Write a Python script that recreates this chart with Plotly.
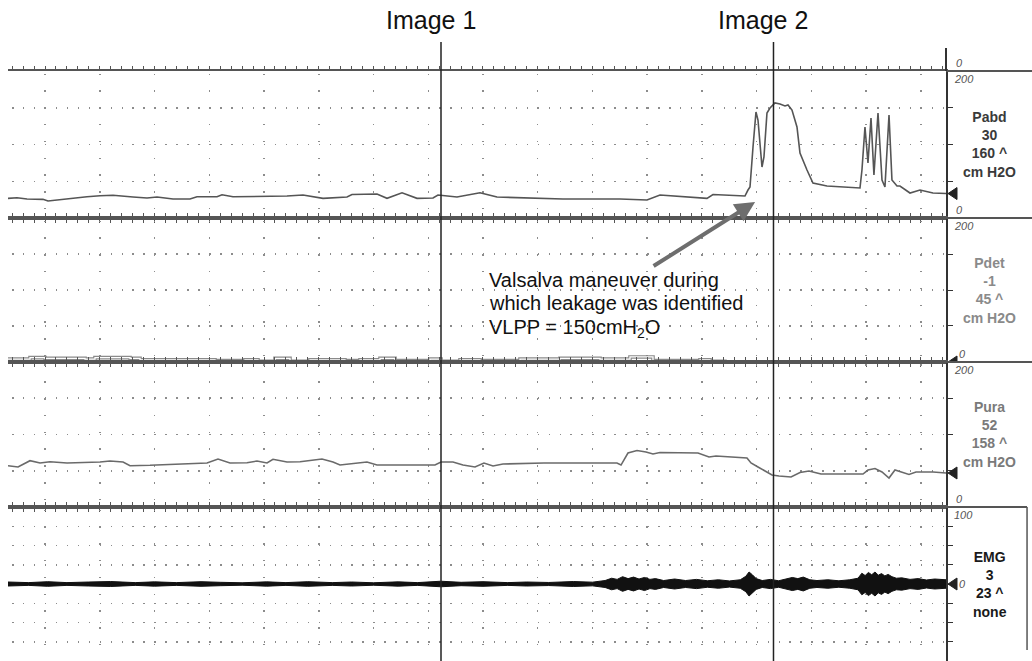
import plotly.graph_objects as go

# ---------------- data (time in s, pressures in cm H2O) ----------------
pabd_t = [-6.76, -5.11, -3.29, -0.37, 0.55, 4.02, 7.67, 10.05, 12.42, 16.07,
          18.63, 20.46, 23.38, 26.48, 27.76, 31.42, 32.33, 34.34, 40.55, 44.20,
          47.12, 50.78, 55.16, 56.07, 60.64, 62.47, 65.21, 67.95, 70.87, 71.78,
          75.25, 79.45, 82.56, 88.58, 94.61, 105.02, 109.95, 112.33, 119.09, 120.91,
          122.01, 127.85, 128.40, 128.77, 129.32, 129.86, 130.23, 130.96, 131.32, 131.87,
          132.42, 133.33, 134.25, 135.16, 135.71, 136.44, 137.35, 137.90, 139.18, 140.27,
          142.83, 145.21, 147.58, 148.86, 149.22, 149.77, 150.32, 150.87, 151.41, 152.15,
          152.88, 153.42, 154.16, 154.70, 155.62, 156.16, 157.99, 159.82, 162.19, 164.57]
pabd_v = [26.8, 27.6, 25.9, 25.4, 23.1, 26.3, 29.0, 30.3, 30.9, 28.6,
          27.2, 28.6, 25.9, 25.9, 29.0, 29.0, 31.7, 29.0, 29.0, 29.9,
          31.3, 26.8, 28.6, 32.0, 32.7, 26.8, 34.4, 26.8, 27.2, 31.3,
          28.6, 34.4, 28.6, 26.8, 25.9, 25.9, 24.5, 31.3, 27.6, 26.8,
          32.0, 29.9, 38.1, 42.2, 96.6, 144.2, 133.3, 69.4, 83.0, 142.9,
          149.7, 156.5, 155.1, 152.4, 153.7, 146.9, 123.8, 88.4, 65.3, 47.6,
          43.5, 42.2, 40.8, 40.8, 65.3, 123.8, 74.8, 136.1, 58.5, 142.9,
          51.7, 42.2, 140.1, 51.7, 43.5, 43.5, 34.0, 38.1, 34.0, 33.3]

pdet_t = [-6.76, -4.57, -2.74, 0.0, 7.31, 9.13, 15.53, 17.35, 26.48, 31.05,
          36.53, 38.90, 42.01, 44.75, 48.40, 54.79, 57.53, 61.19, 63.93, 70.32,
          72.33, 75.80, 79.45, 86.76, 94.06, 101.37, 106.85, 108.68, 111.05, 114.16,
          119.63, 121.46, 124.20, 164.57]
pdet_v = [4, 4, 6, 5, 4, 6, 5, 3, 3, 2,
          3, 1, 5, 1, 3, 2, 3, 5, 2, 4,
          1, 3, 2, 4, 5, 4, 7, 7, 2, 2,
          3, 1, 0, 0]

pura_t = [-6.76, -4.93, -2.74, -0.91, 0.91, 4.02, 10.05, 11.87, 14.25, 15.53,
          19.18, 25.21, 29.59, 31.60, 33.79, 36.89, 38.72, 40.55, 41.64, 44.20,
          46.58, 50.59, 52.60, 53.88, 57.53, 58.81, 60.64, 64.84, 71.23, 72.33,
          74.52, 76.35, 78.54, 80.18, 81.83, 83.65, 91.14, 104.47, 105.21, 106.48,
          108.13, 109.77, 111.05, 112.33, 119.27, 121.28, 122.56, 128.22, 128.95, 130.23,
          131.51, 132.79, 134.06, 136.26, 137.90, 139.54, 141.74, 149.41, 150.32, 151.60,
          152.88, 154.16, 155.25, 157.81, 159.09, 162.19, 164.57]
pura_v = [57.0, 55.2, 63.9, 60.7, 62.5, 60.7, 62.1, 63.4, 62.1, 57.0,
          57.5, 59.3, 60.7, 66.2, 60.7, 61.1, 63.4, 60.7, 65.8, 62.1,
          62.5, 66.2, 62.1, 57.9, 60.7, 62.1, 57.9, 57.9, 57.9, 62.1,
          62.1, 57.9, 55.2, 60.7, 56.6, 59.3, 60.7, 60.7, 57.9, 74.5,
          77.9, 75.9, 73.1, 75.2, 74.5, 69.0, 70.3, 67.6, 60.7, 55.2,
          49.7, 44.1, 42.8, 41.4, 47.6, 49.7, 45.5, 45.5, 51.0, 53.0,
          48.3, 40.0, 51.0, 44.8, 48.3, 48.3, 46.9]

# EMG amplitude envelope (half-amplitude, arbitrary units)
emg_t = [-6.76, -3.0, 0.5, 4.0, 8.0, 12.0, 16.5, 20.0, 24.0, 28.5,
         32.0, 36.0, 40.5, 44.0, 48.0, 52.5, 56.0, 60.0, 64.5, 68.0,
         72.3, 76.0, 80.0, 84.5, 88.0, 92.0, 96.5, 100.0, 102.3, 103.5,
         104.5, 105.5, 106.5, 107.5, 108.5, 109.5, 110.5, 111.5, 113.0, 115.0,
         117.0, 119.0, 121.0, 123.0, 125.0, 127.0, 128.0, 128.6, 129.2, 129.9,
         131.0, 132.5, 134.0, 135.5, 136.5, 137.5, 138.5, 139.7, 141.0, 143.0,
         145.0, 147.0, 148.5, 149.2, 149.8, 150.4, 151.0, 151.6, 152.2, 152.8,
         153.4, 154.0, 154.7, 155.5, 156.5, 158.0, 159.5, 161.0, 162.5, 164.57]
emg_env = [2.6, 1.8, 3.0, 1.8, 2.6, 3.2, 1.8, 2.8, 1.8, 3.0,
           2.2, 1.6, 2.8, 1.8, 3.0, 1.8, 2.6, 1.6, 2.8, 1.8,
           3.6, 2.2, 3.0, 1.8, 2.6, 2.0, 3.2, 2.4, 4.5, 7.5,
           6.0, 9.5, 7.0, 9.0, 6.5, 8.5, 6.0, 7.0, 4.5, 6.5,
           4.5, 6.0, 4.2, 5.5, 4.0, 5.5, 10.0, 15.6, 12.0, 7.0,
           4.5, 6.0, 4.2, 6.5, 8.5, 7.0, 9.0, 5.5, 4.5, 5.5,
           4.2, 5.5, 7.5, 14.0, 11.0, 15.0, 12.0, 15.6, 11.5, 13.5,
           10.5, 12.5, 9.5, 7.5, 8.0, 6.0, 7.0, 5.2, 6.5, 5.5]

channel_names = ["Pabd", "Pdet", "Pura", "EMG"]
channel_current = ["30", "-1", "52", "3"]
channel_scale = ["160 ^", "45 ^", "158 ^", "23 ^"]
channel_units = ["cm H2O", "cm H2O", "cm H2O", "none"]
channel_top = [200, 200, 200, 100]
channel_bottom = [0, 0, 0, -100]
channel_label_colors = ["#3a3a3a", "#8a8a8a", "#7a7a7a", "#1a1a1a"]
channel_marker_values = [pabd_v[-1], 0, pura_v[-1], 0]

event_t = [72.33, 133.06]
event_labels = ["Image 1", "Image 2"]
time_range = [-6.76, 164.57]

note_lines = ["Valsalva maneuver during", "which leakage was identified",
              "VLPP = 150cmH<sub>2</sub>O"]
note_t = 80.7
note_y = [114, 82, 47]          # in Pdet axis units
arrow_tip_t = 129.7
arrow_tip_y = 21.8              # in Pabd axis units

FONT = "Arial, 'Liberation Sans', sans-serif"
GRID = "#8c8c8c"

# ---------------- figure ----------------
fig = go.Figure()
domains = [[0.7508, 1.0], [0.5068, 0.7508], [0.2610, 0.5068], [0.0, 0.2610]]
ax_ids = ["", "2", "3", "4"]

fig.add_trace(go.Scatter(x=pabd_t, y=pabd_v, xaxis="x", yaxis="y", mode="lines",
                         line=dict(color="#555555", width=1.6), hoverinfo="skip"))
fig.add_trace(go.Scatter(x=pdet_t, y=pdet_v, xaxis="x2", yaxis="y2", mode="lines",
                         line=dict(color="#8a8a8a", width=3.6, shape="hv"), hoverinfo="skip"))
fig.add_trace(go.Scatter(x=pdet_t, y=pdet_v, xaxis="x2", yaxis="y2", mode="lines",
                         line=dict(color="#ffffff", width=1.3, shape="hv"), hoverinfo="skip"))
fig.add_trace(go.Scatter(x=pura_t, y=pura_v, xaxis="x3", yaxis="y3", mode="lines",
                         line=dict(color="#6a6a6a", width=1.6), hoverinfo="skip"))
band_x = emg_t + emg_t[::-1]
band_y = emg_env + [-e for e in emg_env[::-1]]
fig.add_trace(go.Scatter(x=band_x, y=band_y, xaxis="x4", yaxis="y4", mode="lines",
                         fill="toself", fillcolor="#111111",
                         line=dict(color="#111111", width=1), hoverinfo="skip"))

layout = dict(
    width=1032, height=661,
    margin=dict(l=8, r=86, t=71, b=0),
    paper_bgcolor="white", plot_bgcolor="white",
    showlegend=False,
    font=dict(family=FONT, color="#111111"),
)

for i in range(4):
    xa = dict(range=time_range, domain=[0, 1], anchor="y" + ax_ids[i],
              showgrid=True, gridcolor=GRID, gridwidth=1.5,
              griddash="0px,2.5px,1.5px,12.8px",
              tick0=0, dtick=10, showticklabels=False,
              ticks="outside", ticklen=3, tickcolor="#555555", tickwidth=1,
              showline=True, linecolor="#555555", linewidth=2,
              zeroline=False, fixedrange=True,
              minor=dict(dtick=2, ticks="outside", ticklen=3, tickcolor="#555555",
                         tickwidth=1, showgrid=False))
    if i < 3:
        xa["mirror"] = "allticks"
    else:
        xa["side"] = "top"
        xa["mirror"] = False
    if i > 0:
        xa["matches"] = "x"
    ya = dict(range=[channel_bottom[i], channel_top[i]], domain=domains[i],
              anchor="x" + ax_ids[i], side="right",
              showgrid=True, gridcolor=GRID, gridwidth=1.5,
              griddash="0px,4px,1.5px,5.45px",
              dtick=25 if i == 3 else 50, tick0=0,
              showticklabels=False, ticks="outside", ticklen=5,
              tickcolor="#333333", showline=True, linecolor="#333333", linewidth=2,
              zeroline=False, fixedrange=True)
    layout["xaxis" + ax_ids[i]] = xa
    layout["yaxis" + ax_ids[i]] = ya

shapes = []
annotations = []

for t, lab in zip(event_t, event_labels):
    shapes.append(dict(type="line", xref="x", yref="paper", x0=t, x1=t, y0=0, y1=1.049,
                       line=dict(color="#222222", width=1.5)))
    annotations.append(dict(xref="x", yref="paper", x=t, y=1.0864, xshift=-10,
                            text=lab, showarrow=False, xanchor="center", yanchor="middle",
                            font=dict(size=25, color="#111111", family=FONT)))

for i in range(4):
    yr = "y" + ax_ids[i] + " domain"
    x_end = 1.0864 if i == 3 else 1.0917
    shapes.append(dict(type="line", xref="paper", yref=yr, x0=1, x1=x_end, y0=1, y1=1,
                       line=dict(color="#555555", width=2)))
    # current-value pointer on the right-hand axis
    shapes.append(dict(type="path", xref="paper", yref="y" + ax_ids[i],
                       xsizemode="pixel", ysizemode="pixel",
                       xanchor=1, yanchor=channel_marker_values[i],
                       path="M2,0 L11,-6 L11,6 Z",
                       fillcolor="#222222", line=dict(color="#222222", width=1)))
shapes.append(dict(type="line", xref="paper", yref="y4 domain", x0=1.0864, x1=1.0864,
                   y0=1, y1=0.071, line=dict(color="#555555", width=1.5)))
shapes.append(dict(type="line", xref="paper", yref="y domain", x0=1, x1=1, y0=1, y1=1.156,
                   line=dict(color="#333333", width=2)))

for i in range(4):
    yr = "y" + ax_ids[i] + " domain"
    txt = "<br>".join("<b>%s</b>" % s for s in
                      [channel_names[i], channel_current[i], channel_scale[i], channel_units[i]])
    annotations.append(dict(xref="paper", yref=yr, x=1.0469, y=0.5, text=txt,
                            showarrow=False, xanchor="center", yanchor="middle", align="center",
                            font=dict(size=14, color=channel_label_colors[i], family=FONT)))
    annotations.append(dict(xref="paper", yref=yr, x=1, y=1, xshift=6, text=str(channel_top[i]),
                            showarrow=False, xanchor="left", yanchor="top",
                            font=dict(size=11, color="#555555", family=FONT, style="italic")))
    if i == 3:
        annotations.append(dict(xref="paper", yref="y4", x=1, y=0, xshift=11, text="0",
                                showarrow=False, xanchor="left", yanchor="middle",
                                font=dict(size=11, color="#555555", family=FONT, style="italic")))
    else:
        annotations.append(dict(xref="paper", yref=yr, x=1, y=0, xshift=11 if i == 1 else 8,
                                text="0", showarrow=False, xanchor="left", yanchor="bottom",
                                font=dict(size=11, color="#555555", family=FONT, style="italic")))
annotations.append(dict(xref="paper", yref="y domain", x=1, y=1, xshift=8, text="0",
                        showarrow=False, xanchor="left", yanchor="bottom",
                        font=dict(size=11, color="#555555", family=FONT, style="italic")))

for txt, yy in zip(note_lines, note_y):
    annotations.append(dict(xref="x2", yref="y2", x=note_t, y=yy, text=txt, showarrow=False,
                            xanchor="left", yanchor="middle",
                            font=dict(size=20, color="#111111", family=FONT)))
annotations.append(dict(xref="x", yref="y", x=arrow_tip_t, y=arrow_tip_y, text="",
                        showarrow=True, axref="pixel", ayref="pixel", ax=-103, ay=65,
                        arrowhead=2, arrowsize=1, arrowwidth=4, arrowcolor="#6e6e6e",
                        standoff=0))

layout["shapes"] = shapes
layout["annotations"] = annotations
fig.update_layout(**layout)

fig.write_html("out.html", config={"displayModeBar": False, "staticPlot": True},
               post_script="document.body.style.margin='0';document.body.style.overflow='hidden';")
